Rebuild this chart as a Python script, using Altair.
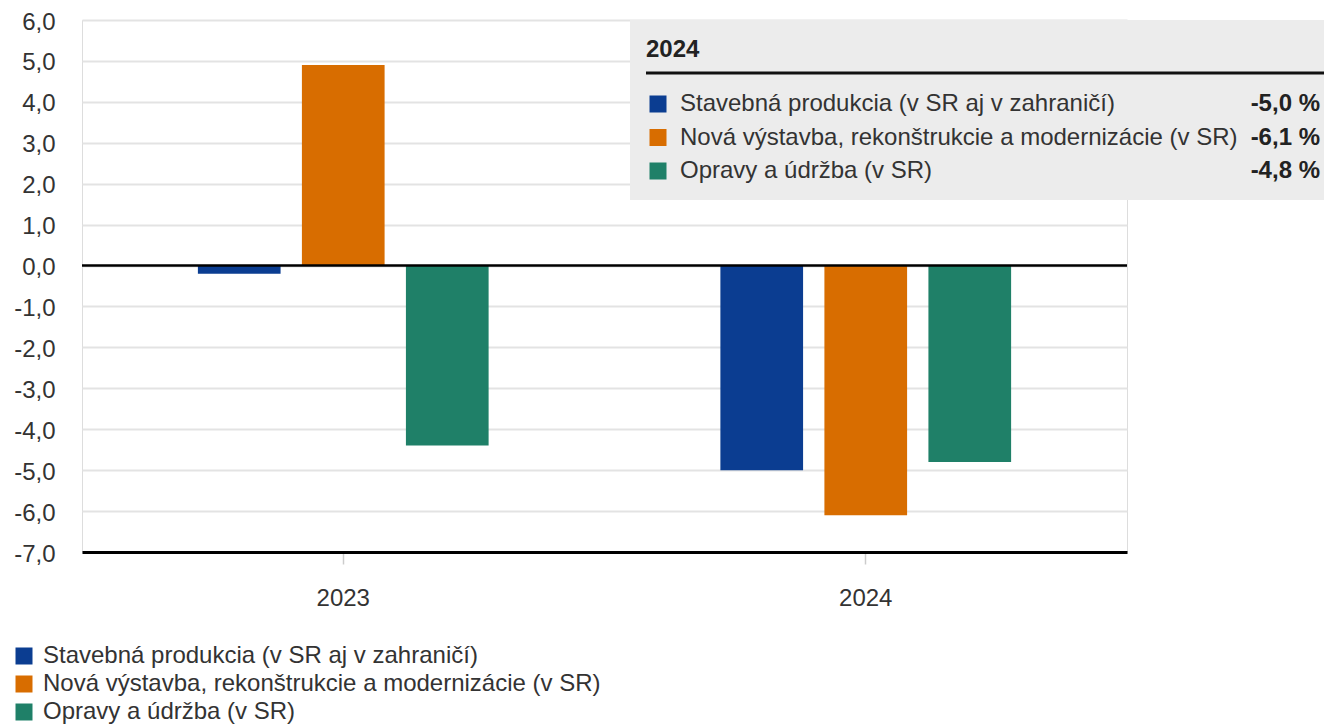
import altair as alt
import pandas as pd

# ---- data ----
series = [
    "Stavebná produkcia (v SR aj v zahraničí)",
    "Nová výstavba, rekonštrukcie a modernizácie (v SR)",
    "Opravy a údržba (v SR)",
]
years = ["2023", "2024"]
values_2023 = [-0.2, 4.9, -4.4]
values_2024 = [-5.0, -6.1, -4.8]
colors = ["#0b3d91", "#d86d00", "#1f8068"]
y_ticks = [-7, -6, -5, -4, -3, -2, -1, 0, 1, 2, 3, 4, 5, 6]

rows = []
for y, vals in zip(years, [values_2023, values_2024]):
    for s, v in zip(series, vals):
        rows.append({"year": y, "series": s, "value": v})
df = pd.DataFrame(rows)

tip = pd.DataFrame({"series": series, "value": values_2024, "idx": list(range(len(series)))})
one = pd.DataFrame({"t": [years[-1]]})

FONT = "Liberation Sans"
FS = 24
NUM = "replace(replace(format(datum.value, '.1f'), '.', ','), '\u2212', '-')"

color_enc = alt.Color(
    "series:N",
    sort=series,
    scale=alt.Scale(domain=series, range=colors),
    legend=alt.Legend(
        title=None,
        orient="none",
        legendX=-70,
        legendY=624,
        direction="vertical",
        symbolType="square",
        symbolSize=289,
        symbolStrokeWidth=0,
        symbolOpacity=1,
        labelFontSize=FS,
        labelFont=FONT,
        labelColor="#333333",
        labelLimit=800,
        labelOffset=7,
        rowPadding=4,
        padding=0,
    ),
)

bars = alt.Chart(df).mark_bar().encode(
    x=alt.X(
        "year:N",
        sort=years,
        scale=alt.Scale(paddingInner=0.4436, paddingOuter=0.2218),
        axis=alt.Axis(
            title=None,
            labelAngle=0,
            domain=True,
            domainColor="black",
            domainWidth=3,
            ticks=True,
            tickSize=12,
            tickColor="#cccccc",
            tickWidth=1.5,
            labelPadding=22,
            labelFontSize=FS,
            labelFont=FONT,
            labelColor="#333333",
            grid=False,
        ),
    ),
    xOffset=alt.XOffset(
        "series:N", sort=series, scale=alt.Scale(paddingInner=0.205, paddingOuter=0)
    ),
    y=alt.Y(
        "value:Q",
        scale=alt.Scale(domain=[-7, 6], nice=False, zero=False),
        axis=alt.Axis(
            title=None,
            values=y_ticks,
            labelExpr=NUM,
            domain=False,
            ticks=False,
            labelPadding=27,
            labelOffset=2,
            labelFontSize=FS,
            labelFont=FONT,
            labelColor="#333333",
            grid=True,
            gridColor="#e3e3e3",
            gridWidth=2,
        ),
    ),
    color=color_enc,
)

zero = alt.Chart(one).mark_rule(color="black", strokeWidth=2.5).encode(y=alt.datum(0))

box = alt.Chart(one).mark_rect(color="#ececec").encode(
    x=alt.value(548), x2=alt.value(1250), y=alt.value(0), y2=alt.value(180)
)
box_title = alt.Chart(one).mark_text(
    align="left", baseline="middle", fontSize=FS, fontWeight="bold", font=FONT, color="#222222"
).encode(x=alt.value(564), y=alt.value(30), text="t:N")
box_rule = alt.Chart(one).mark_rule(color="#111111", strokeWidth=3).encode(
    x=alt.value(564), x2=alt.value(1250), y=alt.value(53)
)

tip_layers = []
for i in range(len(series)):
    base = alt.Chart(tip).transform_filter(f"datum.idx == {i}").transform_calculate(
        label=NUM + " + ' %'"
    )
    ypix = 84 + 33.5 * i
    tip_layers.append(
        base.mark_square(size=289, opacity=1).encode(
            x=alt.value(576), y=alt.value(ypix), color=color_enc
        )
    )
    tip_layers.append(
        base.mark_text(align="left", baseline="middle", fontSize=FS, font=FONT, color="#333333").encode(
            x=alt.value(598), y=alt.value(ypix), text="series:N"
        )
    )
    tip_layers.append(
        base.mark_text(
            align="right", baseline="middle", fontSize=FS, font=FONT, fontWeight="bold", color="#222222"
        ).encode(x=alt.value(1238), y=alt.value(ypix), text="label:N")
    )

chart = alt.layer(bars, zero, box, box_title, box_rule, *tip_layers).properties(
    width=1045,
    height=532,
    autosize=alt.AutoSizeParams(type="none"),
    padding={"left": 74, "top": 12, "right": 197, "bottom": 174},
).configure_view(stroke=None).configure(background="white")

chart.save("out.html", embed_options={"renderer": "svg", "actions": False})
